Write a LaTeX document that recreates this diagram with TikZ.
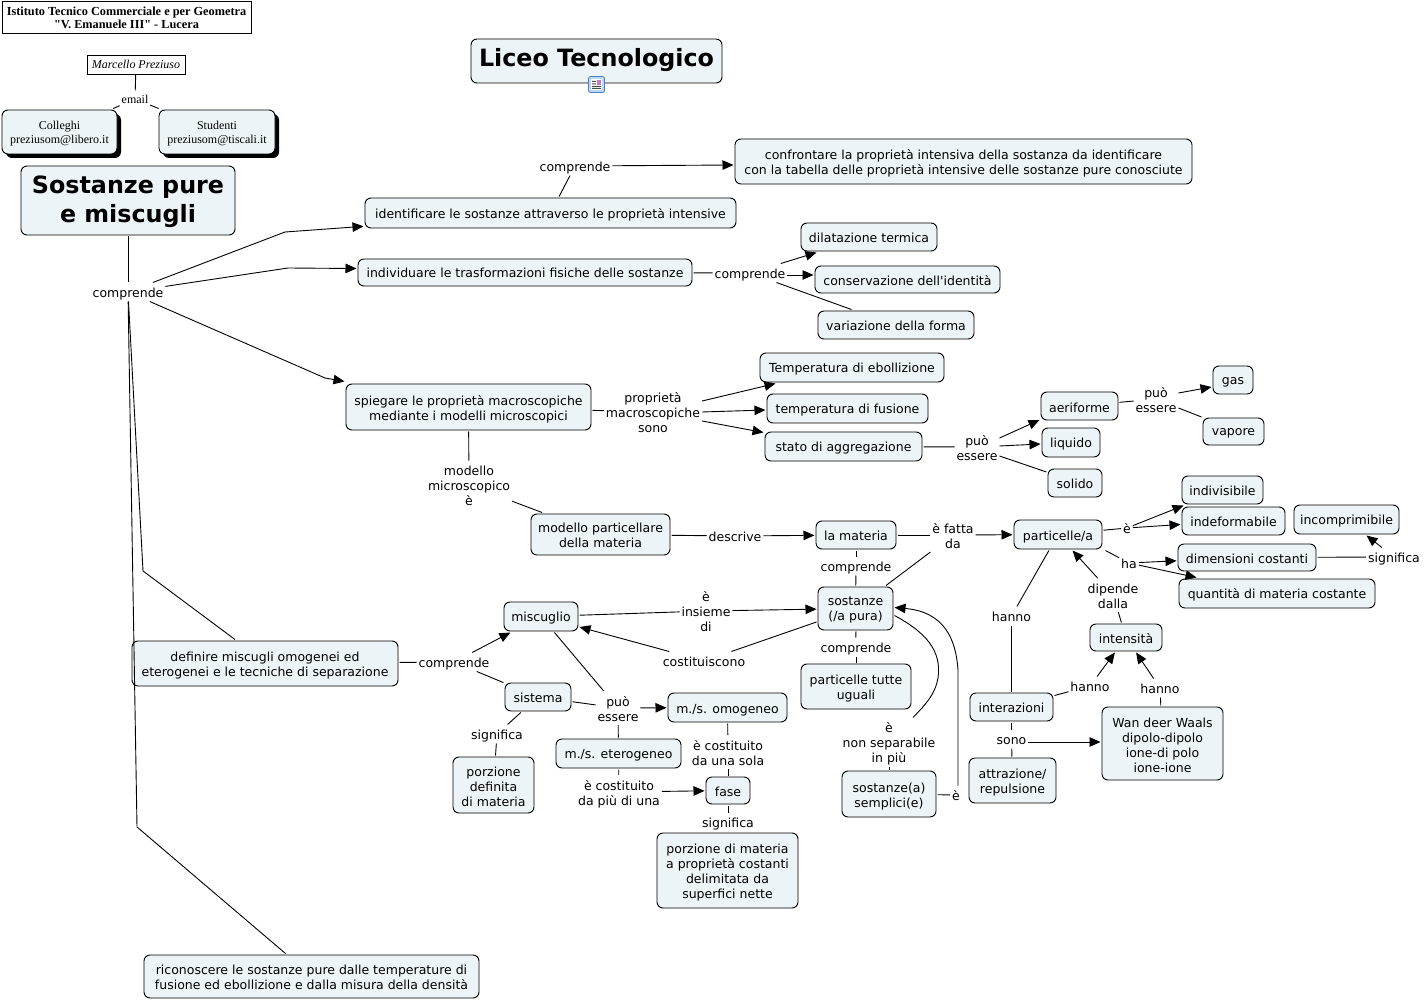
\documentclass[tikz,border=0pt]{standalone}
\usepackage{fontspec}
\setmainfont[Ligatures=TeXOff]{DejaVu Sans}
\newfontfamily\serifT{Liberation Serif}
\usetikzlibrary{arrows.meta}
\definecolor{boxfill}{HTML}{EDF4F7}
\definecolor{iconblue}{HTML}{4A7FC1}
\definecolor{iconfill}{HTML}{BFD8F2}
\tikzset{
  x=1pt,y=-1pt,
  every path/.style={line width=0.9pt},
  cbox/.style={draw=black,fill=boxfill,rounded corners=6pt,inner sep=0pt,outer sep=1.5pt,align=center,font=\fontsize{12.5}{15}\selectfont,text height=13pt,text depth=2pt},
  lbl/.style={inner sep=1pt,outer sep=1pt,align=center,font=\fontsize{12.5}{15}\selectfont,text height=13pt,text depth=2pt},
  l2/.style={text height=28pt},
  l3/.style={text height=43pt},
  l4/.style={text height=58pt},
  up/.style={text height=11pt},
  dn/.style={text height=15pt},
  arr/.style={-{Triangle[length=11pt,width=9.5pt]}},
  serbox/.style={draw=black,fill=white,inner sep=0pt,align=center},
  bigt/.style={font=\bfseries\fontsize{23.8}{29}\selectfont,text height=51pt,text depth=6pt},
  sert/.style={font=\serifT\fontsize{12}{14}\selectfont,text height=26pt,text depth=2pt},
}
\newcommand\bx[7][]{%
  \pgfmathsetmacro\bxw{#5-#3}\pgfmathsetmacro\bxh{#6-#4}%
  \pgfmathsetmacro\bxx{(#3+#5)/2}\pgfmathsetmacro\bxy{(#4+#6)/2}%
  \node[cbox,minimum width=\bxw pt,minimum height=\bxh pt,#1] (#2) at (\bxx,\bxy) {#7};}
\newcommand\lb[4][]{\node[lbl,#1] (#2) at (#3) {#4};}
\begin{document}
\begin{tikzpicture}
\useasboundingbox (0,0) rectangle (1424,1000);
\fill[white] (0,0) rectangle (1424,1000);
\node[serbox,minimum width=249pt,minimum height=32pt,font=\serifT\bfseries\fontsize{12.3}{13.5}\selectfont,text height=26pt,text depth=2pt] (tit) at (126.5,17) {Istituto Tecnico Commerciale e per Geometra\\"V. Emanuele III" - Lucera};
\node[serbox,minimum width=98pt,minimum height=19pt,font=\serifT\itshape\fontsize{12}{14}\selectfont,text height=10pt,text depth=2pt] (marc) at (136,64.5) {Marcello Preziuso};
\lb[font=\serifT\fontsize{12}{14}\selectfont,text height=11pt,text depth=2pt]{eml}{135,99}{email}
\fill[black,rounded corners=6pt] (6,114) rectangle (121,158);
\fill[black,rounded corners=6pt] (163,114) rectangle (279,158);
\bx[sert]{col}{2}{110}{117}{154}{Colleghi\\preziusom@libero.it}
\bx[sert]{stu}{159}{110}{275}{154}{Studenti\\preziusom@tiscali.it}
\bx[bigt]{sost}{21}{166}{235}{235}{Sostanze pure\\e miscugli}
\bx[bigt,text height=18pt]{liceo}{471}{39}{722}{83}{Liceo Tecnologico}
% icon
\draw[draw=iconblue,fill=iconfill,rounded corners=2pt,line width=0.8pt] (588.5,76.5) rectangle (604.5,92.5);
\fill[white] (591,79) rectangle (602,90);
\fill[black!70] (592,81) rectangle (596,82) (592,83.5) rectangle (596,84.5) (592,86) rectangle (601,87) (592,88) rectangle (601,89);
\fill[red!50!blue!50] (597,80) rectangle (601,85);

\bx{ident}{365}{198}{736}{228}{identificare le sostanze attraverso le proprietà intensive}
\bx[l2]{conf}{735}{139}{1192}{184}{confrontare la proprietà intensiva della sostanza da identificare\\con la tabella delle proprietà intensive delle sostanze pure conosciute}
\bx{indiv}{358}{259}{692}{286}{individuare le trasformazioni fisiche delle sostanze}
\bx{dil}{801}{223}{937}{251}{dilatazione termica}
\bx[dn]{cons}{815}{266}{1000}{293}{conservazione dell'identità}
\bx{varf}{818}{311}{974}{339}{variazione della forma}
\bx[l2]{spieg}{346}{384}{591}{430}{spiegare le proprietà macroscopiche\\mediante i modelli microscopici}
\bx[up]{teb}{760}{353}{944}{382}{Temperatura di ebollizione}
\bx[up]{tfu}{767}{394}{928}{423}{temperatura di fusione}
\bx[up]{stato}{765}{432}{922}{461}{stato di aggregazione}
\bx[dn]{aer}{1041}{392}{1118}{420}{aeriforme}
\bx[up]{liq}{1042}{428}{1100}{457}{liquido}
\bx{sol}{1048}{469}{1102}{497}{solido}
\bx[up]{gas}{1213}{366}{1253}{394}{gas}
\bx[text height=9pt]{vap}{1203}{418}{1264}{445}{vapore}
\bx[l2]{modp}{531}{514}{670}{555}{modello particellare\\della materia}
\bx{mat}{816}{521}{896}{549}{la materia}
\bx{part}{1014}{520}{1102}{549}{particelle/a}
\bx{indv}{1182}{476}{1263}{504}{indivisibile}
\bx{indef}{1182}{507}{1285}{535}{indeformabile}
\bx[up]{incomp}{1294}{505}{1399}{534}{incomprimibile}
\bx{dim}{1178}{544}{1316}{571}{dimensioni costanti}
\bx[up]{quant}{1179}{579}{1375}{608}{quantità di materia costante}
\bx[l2,text height=26pt]{sostp}{818}{587}{893}{630}{sostanze\\(/a pura)}
\bx[l2]{ptu}{801}{664}{911}{709}{particelle tutte\\uguali}
\bx[up]{misc}{504}{602}{578}{631}{miscuglio}
\bx[l2]{defm}{132}{641}{398}{686}{definire miscugli omogenei ed\\eterogenei e le tecniche di separazione}
\bx{sist}{505}{683}{571}{711}{sistema}
\bx{omog}{668}{693}{787}{722}{m./s. omogeneo}
\bx[up]{eter}{556}{739}{681}{768}{m./s. eterogeneo}
\bx{fase}{706}{777}{750}{804}{fase}
\bx[l4]{porz}{657}{833}{798}{908}{porzione di materia\\a proprietà costanti\\delimitata da\\superfici nette}
\bx[text height=45pt]{pdef}{453}{757}{534}{813}{porzione\\definita\\di materia}
\bx[l2]{sem}{842}{771}{936}{817}{sostanze(a)\\semplici(e)}
\bx{intens}{1090}{624}{1162}{651}{intensità}
\bx{inter}{970}{693}{1053}{721}{interazioni}
\bx[l2]{attr}{969}{758}{1056}{803}{attrazione/\\repulsione}
\bx[text height=60pt]{wan}{1102}{707}{1223}{780}{Wan deer Waals\\dipolo-dipolo\\ione-di polo\\ione-ione}
\bx[l2]{ric}{144}{955}{479}{998}{riconoscere le sostanze pure dalle temperature di\\fusione ed ebollizione e dalla misura della densità}

\lb{cm}{128,292}{comprende}
\lb{c1}{575,166}{comprende}
\lb{c2}{750,273}{comprende}
\lb[l3]{p1}{653,412}{proprietà\\macroscopiche\\sono}
\lb[l2]{pe1}{977,447}{può\\essere}
\lb[l2]{pe2}{1156,399}{può\\essere}
\lb[l3]{mm}{469,485}{modello\\microscopico\\è}
\lb{des}{735,536}{descrive}
\lb[l2]{efd}{953,535}{è fatta\\da}
\lb{ee}{1127,528}{è}
\lb{ha}{1129,563}{ha}
\lb{sg}{1394,557}{significa}
\lb{c3}{856,566}{comprende}
\lb{c4}{856,647}{comprende}
\lb[l3]{ins}{706,611}{è\\insieme\\di}
\lb{cst}{704,661}{costituiscono}
\lb{c5}{454,662}{comprende}
\lb[l2]{pe3}{618,708}{può\\essere}
\lb[l2]{ecs}{728,752}{è costituito\\da una sola}
\lb[l2]{ecp}{619,792}{è costituito\\da più di una}
\lb{sg2}{728,822}{significa}
\lb{sg3}{497,734}{significa}
\lb[l3]{ens}{889,742}{è\\non separabile\\in più}
\lb{e2}{956,795}{è}
\lb{h1}{1011.5,616}{hanno}
\lb[l2]{dip}{1113,595}{dipende\\dalla}
\lb{h2}{1090,686}{hanno}
\lb{h3}{1160,688}{hanno}
\lb{sono}{1011.5,739}{sono}

% connectors
\draw (marc) -- (eml);
\draw (eml) -- (col);
\draw (eml) -- (stu);
\draw (sost) -- (cm);
\draw[arr] (cm) -- (285,232) -- (ident);
\draw[arr] (cm) -- (288,268) -- ([yshift=4pt]indiv.west);
\draw[arr] (cm) -- (325,378) -- ([yshift=1pt]spieg.north west);
\draw (cm) -- (143,571) -- ([xshift=-30pt]defm.north);
\draw (cm) -- (137,827) -- ([xshift=-26pt]ric.north);
\draw (ident) -- (c1);
\draw[arr] (c1) -- ([yshift=-3.5pt]conf.west);
\draw (indiv) -- (c2);
\draw[arr] (c2) -- ([xshift=17pt]dil.south west);
\draw[arr] ([yshift=-2pt]c2.east) -- ([yshift=4.5pt]cons.west);
\draw (c2) -- ([xshift=35pt]varf.north west);
\draw (spieg) -- (p1);
\draw[arr] ([yshift=11pt]p1.east) -- ([xshift=17pt]teb.south west);
\draw[arr] (p1.east) -- ([yshift=-1.5pt]tfu.west);
\draw[arr] ([yshift=-9pt]p1.east) -- ([yshift=14pt]stato.west);
\draw (stato) -- (pe1);
\draw[arr] ([yshift=9pt]pe1.east) -- ([yshift=-14pt]aer.west);
\draw[arr] ([yshift=1pt]pe1.east) -- ([yshift=-1.5pt]liq.west);
\draw ([yshift=-9pt]pe1.east) -- ([yshift=11pt]sol.west);
\draw (aer) -- (pe2);
\draw[arr] ([yshift=6pt]pe2.east) -- ([yshift=-7pt]gas.west);
\draw ([yshift=-9pt]pe2.east) -- ([yshift=14.5pt]vap.west);
\draw (spieg) -- (mm);
\draw (mm) -- (modp);
\draw (modp) -- (des);
\draw[arr] (des) -- (mat);
\draw (mat) -- (efd);
\draw[arr] (efd) -- (part);
\draw (sostp) -- (efd);
\draw (part) -- (ee);
\draw[arr] (ee) -- ([xshift=3pt]indv.south west);
\draw[arr] (ee) -- (indef);
\draw ([xshift=2pt]part.south east) -- (ha);
\draw[arr] (ha) -- (dim);
\draw[arr] (ha) -- ([xshift=19pt]quant.north west);
\draw (dim) -- (sg);
\draw[arr] (sg) -- ([xshift=74pt]incomp.south west);
\draw (mat) -- (c3);
\draw (c3) -- (sostp);
\draw (sostp) -- (c4);
\draw (c4) -- (ptu);
\draw (misc) -- (ins);
\draw[arr] (ins) -- (sostp);
\draw (sostp) -- (cst);
\draw[arr] (cst) -- (misc);
\draw (defm) -- (c5);
\draw[arr] (c5) -- (misc);
\draw (c5) -- (sist);
\draw (misc) -- (pe3);
\draw (sist) -- (pe3);
\draw[arr] (pe3) -- (omog);
\draw (pe3) -- (eter);
\draw (omog) -- (ecs);
\draw (ecs) -- (fase);
\draw (eter) -- (ecp);
\draw[arr] (ecp) -- (fase);
\draw (fase) -- (sg2);
\draw (sg2) -- (porz);
\draw (sist) -- (sg3);
\draw (sg3) -- (pdef);
\draw ([yshift=-7pt]sostp.east) .. controls (925,632) and (942,650) .. (938,678) .. controls (935,695) and (925,705) .. ([xshift=24pt]ens.north);
\draw (ens) -- (sem);
\draw (sem) -- (e2);
\draw[arr] ([xshift=2pt]e2.north) -- (958,670) .. controls (956,640) and (945,612) .. ([yshift=1pt]sostp.east);
\draw (part) -- (h1);
\draw (h1) -- (inter);
\draw (inter) -- (h2);
\draw[arr] (h2) -- (intens);
\draw (wan) -- (h3);
\draw[arr] (h3) -- (intens);
\draw (intens) -- (dip);
\draw[arr] (dip) -- (part);
\draw (inter) -- (sono);
\draw (sono) -- (attr);
\draw[arr] ([yshift=-3pt]sono.east) -- ([yshift=1.5pt]wan.west);
\end{tikzpicture}
\end{document}
